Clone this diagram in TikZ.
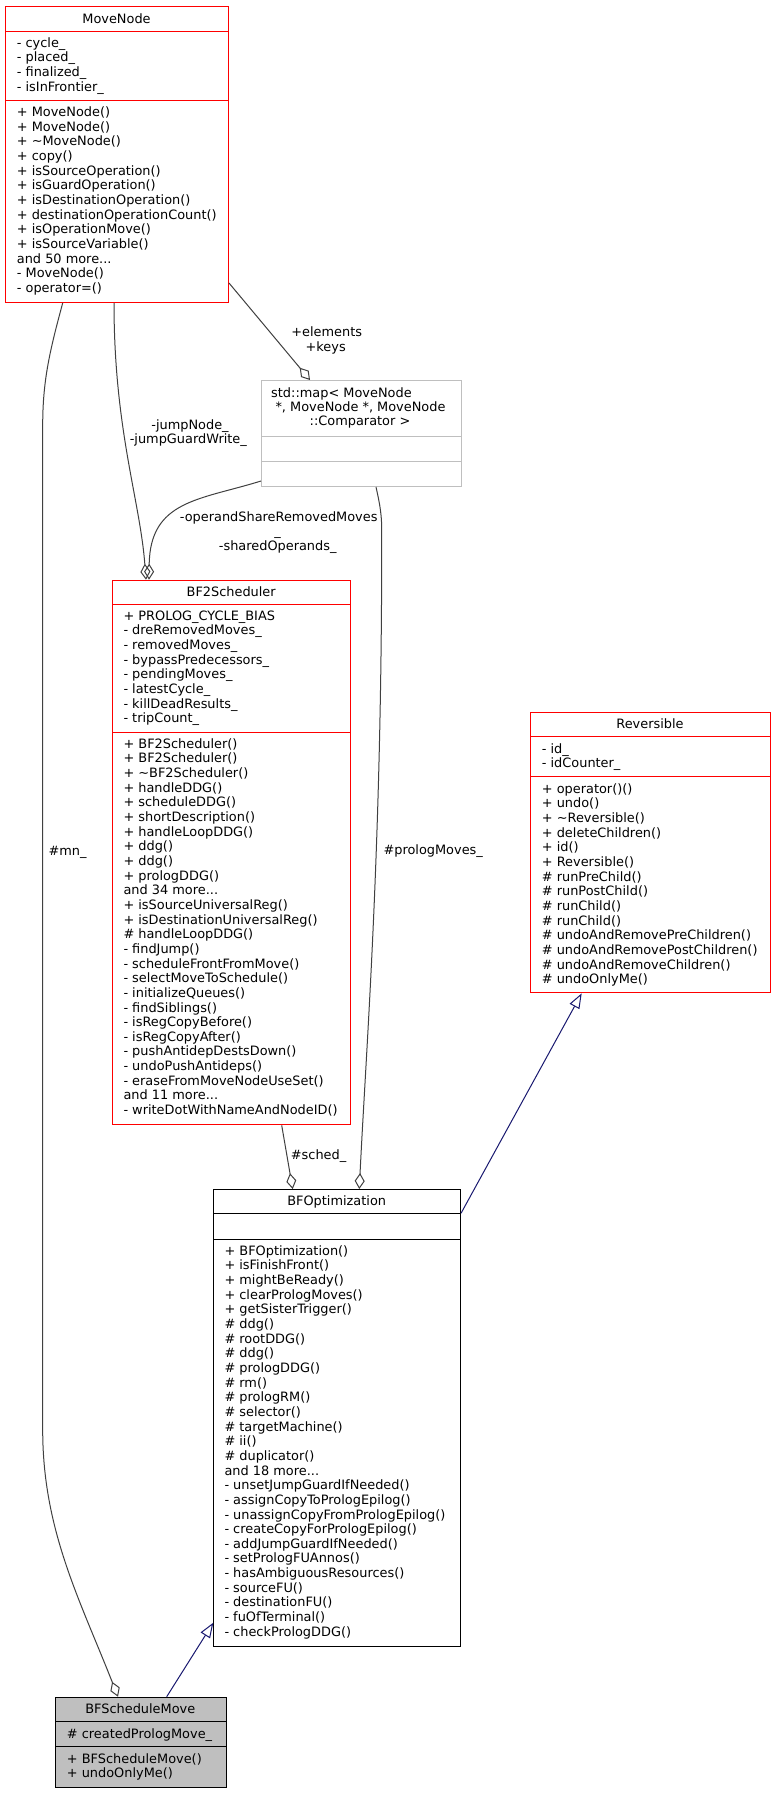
\documentclass[tikz,border=0pt]{standalone}
\usepackage{fontspec}
\newfontfamily\dv{DejaVu Sans}
\usetikzlibrary{arrows.meta}
\definecolor{edgegray}{HTML}{404040}
\definecolor{mapgray}{HTML}{BFBFBF}
\definecolor{inhblue}{HTML}{191970}
\definecolor{leafgray}{HTML}{BFBFBF}
\newcommand\umlfont{\dv\fontsize{12.9}{14.65}\selectfont}
\newcommand\mdots{.\kern0pt.\kern0pt.}
\tikzset{
  cls/.style={draw, line width=1pt, inner sep=0pt, anchor=north west},
  ln/.style={anchor=base west, inner sep=0pt, font=\umlfont},
  ttl/.style={anchor=base, inner sep=0pt, font=\umlfont},
  lbl/.style={anchor=base, inner sep=0pt, font=\umlfont},
  agg/.style={draw=edgegray, line width=1pt, -{Diamond[open,length=16pt,width=10pt]}},
  inh/.style={draw=inhblue, line width=1pt, -{Triangle[open,length=15pt,width=11pt]}},
}
\newcommand\clines[3]{\foreach \t [count=\i from 0] in {#3}{\node[ln] at (#1,{#2+4.3+\i*14.65}) {\t};}}
\begin{document}
\begin{tikzpicture}[x=1pt,y=-1pt]
\fill[white] (0,0) rectangle (775,1793);
\useasboundingbox (0,0) rectangle (775,1793);

% ---------- MoveNode ----------
\node[cls, draw=red, minimum width=223pt, minimum height=296pt] (movenode) at (5,6) {};
\draw[red, line width=1pt] (5,32) -- (228,32) (5,100) -- (228,100);
\node[ttl] at (116.5,23.3) {MoveNode};
\clines{16.7}{43}{- cycle\_, - placed\_, - finalized\_, - isInFrontier\_}
\clines{16.7}{112.3}{+ MoveNode(), + MoveNode(), + \textasciitilde MoveNode(), + copy(), + isSourceOperation(), + isGuardOperation(), + isDestinationOperation(), + destinationOperationCount(), + isOperationMove(), + isSourceVariable(), and 50 more\mdots, - MoveNode(), - operator=()}

% ---------- std::map ----------
\node[cls, draw=mapgray, minimum width=200pt, minimum height=106pt] (map) at (261,380) {};
\draw[mapgray, line width=1pt] (261,436) -- (461,436) (261,461) -- (461,461);
\node[ln] at (271,397) {std::map< MoveNode};
\node[ttl] at (360.5,411) {\space*, MoveNode *, MoveNode};
\node[ttl] at (360,425.6) {::Comparator >};

% ---------- BF2Scheduler ----------
\node[cls, draw=red, minimum width=238.3pt, minimum height=544.6pt] (bf2) at (112,579.7) {};
\draw[red, line width=1pt] (112,604.3) -- (350.3,604.3) (112,732.7) -- (350.3,732.7);
\node[ttl] at (231.2,596.3) {BF2Scheduler};
\clines{123.3}{616}{+ PROLOG\_CYCLE\_BIAS, - dreRemovedMoves\_, - removedMoves\_, - bypassPredecessors\_, - pendingMoves\_, - latestCycle\_, - killDeadResults\_, - tripCount\_}
\clines{123.3}{744}{+ BF2Scheduler(), + BF2Scheduler(), + \textasciitilde BF2Scheduler(), + handleDDG(), + scheduleDDG(), + shortDescription(), + handleLoopDDG(), + ddg(), + ddg(), + prologDDG(), and 34 more\mdots, + isSourceUniversalReg(), + isDestinationUniversalReg(), \# handleLoopDDG(), - findJump(), - scheduleFrontFromMove(), - selectMoveToSchedule(), - initializeQueues(), - findSiblings(), - isRegCopyBefore(), - isRegCopyAfter(), - pushAntidepDestsDown(), - undoPushAntideps(), - eraseFromMoveNodeUseSet(), and 11 more\mdots, - writeDotWithNameAndNodeID()}

% ---------- Reversible ----------
\node[cls, draw=red, minimum width=240pt, minimum height=280.6pt] (rev) at (530,711.7) {};
\draw[red, line width=1pt] (530,736.7) -- (770,736.7) (530,776.7) -- (770,776.7);
\node[ttl] at (650,728.3) {Reversible};
\clines{541.7}{749}{- id\_, - idCounter\_}
\clines{541.7}{789}{+ operator()(), + undo(), + \textasciitilde Reversible(), + deleteChildren(), + id(), + Reversible(), \# runPreChild(), \# runPostChild(), \# runChild(), \# runChild(), \# undoAndRemovePreChildren(), \# undoAndRemovePostChildren(), \# undoAndRemoveChildren(), \# undoOnlyMe()}

% ---------- BFOptimization ----------
\node[cls, draw=black, minimum width=246.7pt, minimum height=457pt] (bfopt) at (213.3,1189) {};
\draw[black, line width=1pt] (213.3,1213.5) -- (460,1213.5) (213.3,1239.3) -- (460,1239.3);
\node[ttl] at (336.7,1205.3) {BFOptimization};
\clines{224.3}{1251}{+ BFOptimization(), + isFinishFront(), + mightBeReady(), + clearPrologMoves(), + getSisterTrigger(), \# ddg(), \# rootDDG(), \# ddg(), \# prologDDG(), \# rm(), \# prologRM(), \# selector(), \# targetMachine(), \# ii(), \# duplicator(), and 18 more\mdots, - unsetJumpGuardIfNeeded(), - assignCopyToPrologEpilog(), - unassignCopyFromPrologEpilog(), - createCopyForPrologEpilog(), - addJumpGuardIfNeeded(), - setPrologFUAnnos(), - hasAmbiguousResources(), - sourceFU(), - destinationFU(), - fuOfTerminal(), - checkPrologDDG()}

% ---------- BFScheduleMove ----------
\node[cls, draw=black, fill=leafgray, minimum width=170.7pt, minimum height=90.6pt] (bfsm) at (55,1696.7) {};
\draw[black, line width=1pt] (55,1721.7) -- (225.7,1721.7) (55,1746.7) -- (225.7,1746.7);
\node[ttl] at (140.3,1713.3) {BFScheduleMove};
\clines{66.7}{1734}{\# createdPrologMove\_}
\clines{66.7}{1759}{+ BFScheduleMove(), + undoOnlyMe()}

% ---------- connectors ----------
\draw[agg] ([yshift=20pt]movenode.south east) -- ([xshift=49pt]map.north west);
\draw[agg] ([xshift=109pt]movenode.south west) .. controls (114,430) and (140,500) .. ([xshift=34pt]bf2.north west);
\draw[agg] ([yshift=6pt]map.south west) .. controls (200,500) and (150,500) .. ([xshift=37pt]bf2.north west);
\draw[agg] ([xshift=57.7pt]movenode.south west) .. controls (50,350) and (42.7,380) .. (42.7,425) -- (42.7,1430) .. controls (42.7,1530) and (80,1600) .. ([xshift=63pt]bfsm.north west);
\draw[agg] ([xshift=115pt]map.south west) .. controls (380,505) and (382,515) .. (381.7,535) .. controls (382,850) and (366,1050) .. ([xshift=146pt]bfopt.north west);
\draw[agg] ([xshift=169.7pt]bf2.south west) -- ([xshift=79.4pt]bfopt.north west);
\draw[inh] ([yshift=-24.3pt]bfopt.north east) -- ([xshift=51.7pt]rev.south west);
\draw[inh] ([xshift=111.7pt]bfsm.north west) -- ([yshift=24.3pt]bfopt.south west);

% ---------- connector labels ----------
\node[lbl] (lelem) at (326.7,336.6) {+elements};
\node[lbl] (lkeys) at (325.7,351.6) {+keys};
\node[lbl] (ljump) at (190,429.3) {-jumpNode\_};
\node[lbl] (ljgw) at (188.3,443.6) {-jumpGuardWrite\_};
\node[lbl] (lopsh) at (278.7,521) {-operandShareRemovedMoves};
\node[lbl] (lus) at (277.7,535.6) {\_};
\node[lbl] (lshop) at (277.7,550.6) {-sharedOperands\_};
\node[ln] (lmn) at (48.3,855) {\#mn\_};
\node[ln] (lprolog) at (383.3,854.3) {\#prologMoves\_};
\node[ln] (lsched) at (290.7,1159.3) {\#sched\_};
\end{tikzpicture}
\end{document}
